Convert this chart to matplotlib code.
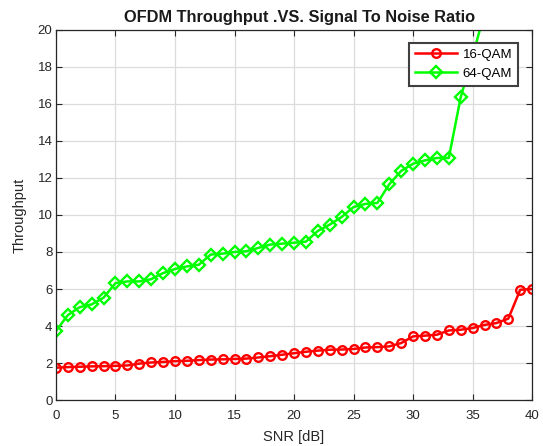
import numpy as np
import matplotlib
matplotlib.use("Agg")
import matplotlib.pyplot as plt

plt.rcParams['font.family'] = ['Liberation Sans', 'DejaVu Sans']

# SNR values in dB
snr = np.arange(0, 41)

# throughput
qam16 = [1.75, 1.78, 1.80, 1.82, 1.83, 1.85, 1.87, 1.97, 2.03, 2.06,
         2.10, 2.12, 2.16, 2.19, 2.20, 2.22, 2.24, 2.30, 2.37, 2.45,
         2.53, 2.61, 2.67, 2.72, 2.73, 2.76, 2.84, 2.86, 2.90, 3.08,
         3.44, 3.48, 3.53, 3.76, 3.80, 3.89, 4.06, 4.16, 4.40, 5.96,
         6.00]
qam64 = [3.73, 4.59, 5.02, 5.17, 5.53, 6.32, 6.41, 6.41, 6.53, 6.86,
         7.08, 7.22, 7.31, 7.86, 7.91, 8.00, 8.04, 8.22, 8.40, 8.45,
         8.50, 8.56, 9.14, 9.48, 9.89, 10.43, 10.60, 10.65, 11.66, 12.38,
         12.77, 12.95, 13.08, 13.08, 16.36, 18.60, 20.90, 23.0, 25.0, 27.0,
         29.0]

fig = plt.figure(figsize=(5.43, 4.46), dpi=100)
ax = fig.add_axes([0.103, 0.103, 0.877, 0.830])

ax.plot(snr, qam16, color='red', lw=1.8, marker='o', ms=6.2, mfc='none',
        mew=1.7, label='16-QAM')
ax.plot(snr, qam64, color='#00ff00', lw=1.8, marker='D', ms=5.7, mfc='none',
        mew=1.7, label='64-QAM')

ax.set_xlim(0, 40)
ax.set_ylim(0, 20)
ax.set_xticks(np.arange(0, 41, 5))
ax.set_yticks(np.arange(0, 21, 2))
ax.tick_params(direction='in', top=True, right=True, labelsize=9.5,
               colors='#262626', length=4)
ax.tick_params(axis='x', pad=7)
ax.tick_params(axis='y', pad=2.5)
ax.grid(True, color='#dcdcdc', lw=0.9)
for s in ax.spines.values():
    s.set_color('#262626')
    s.set_linewidth(0.9)

ax.set_xlabel('SNR [dB]', fontsize=10.5, color='#262626', labelpad=6)
ax.set_ylabel('Throughput', fontsize=10.5, color='#262626', labelpad=8)
ax.set_title('OFDM Throughput .VS. Signal To Noise Ratio', fontsize=11.8,
             fontweight='bold', color='#1a1a1a', pad=6, x=0.512)

leg = ax.legend(loc='upper right', bbox_to_anchor=(0.971, 0.965),
                fontsize=9.5, fancybox=False, framealpha=1,
                edgecolor='#404040', handlelength=3.2, borderpad=0.45,
                labelspacing=0.5, handletextpad=0.4, borderaxespad=0)
leg.get_frame().set_linewidth(1.5)

fig.savefig('out.png', dpi=100)
